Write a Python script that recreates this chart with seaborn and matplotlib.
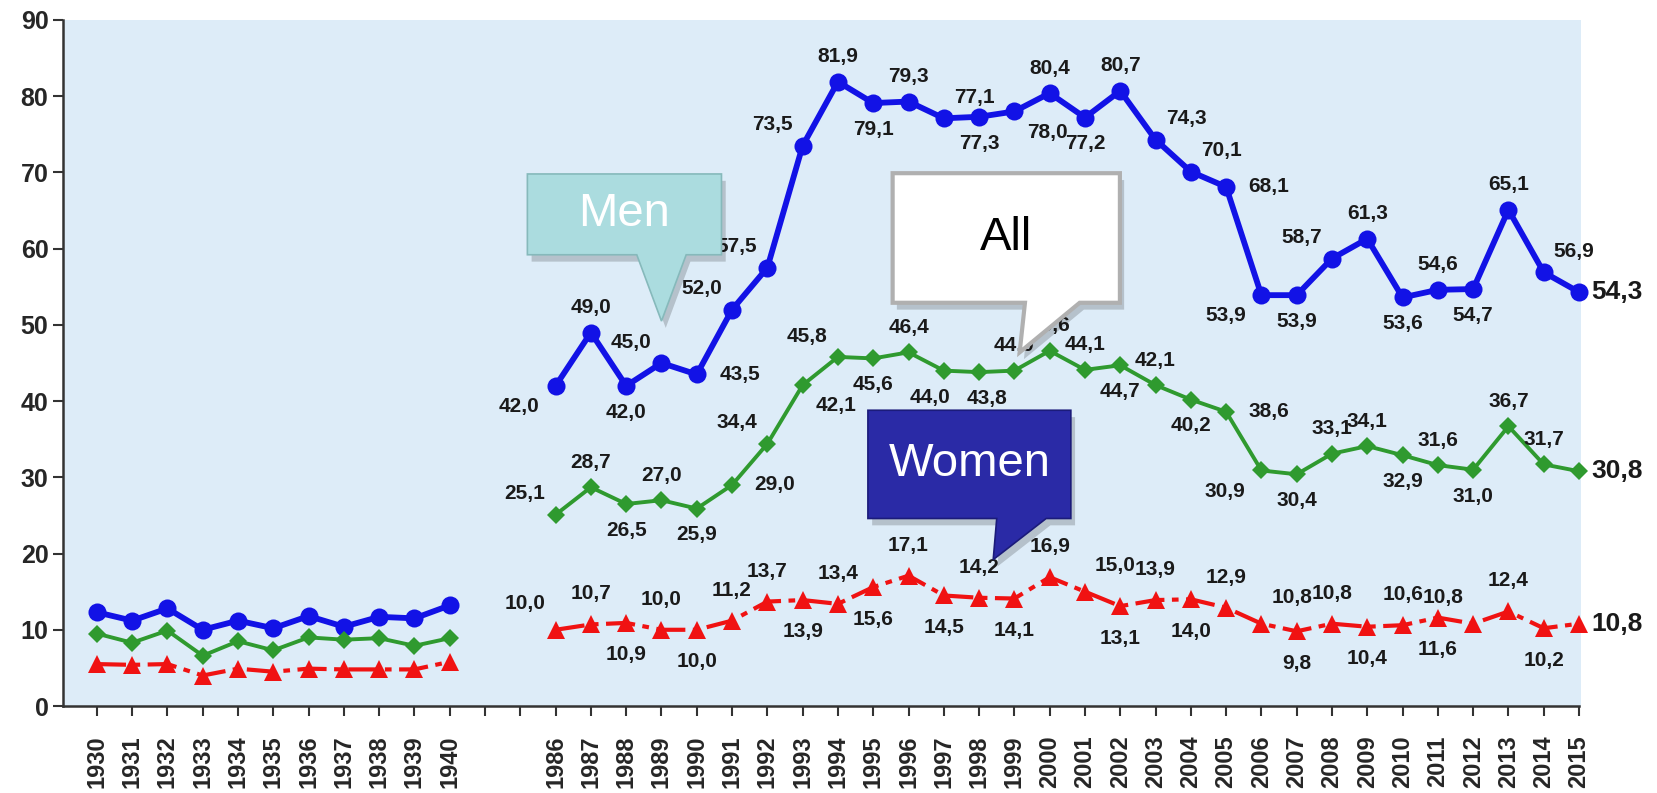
import matplotlib
matplotlib.use("Agg")
import matplotlib.pyplot as plt
from matplotlib.patches import Polygon
import pandas as pd
import seaborn as sns

# --- data -------------------------------------------------------------
years_early = list(range(1930, 1941))
years_late = list(range(1986, 2016))

men_early = [12.3, 11.2, 12.8, 10.0, 11.2, 10.2, 11.8, 10.4, 11.7, 11.5, 13.2]
all_early = [9.5, 8.3, 9.9, 6.6, 8.5, 7.3, 9.0, 8.7, 8.9, 7.9, 8.9]
women_early = [5.5, 5.4, 5.5, 4.0, 4.9, 4.5, 4.9, 4.8, 4.8, 4.8, 5.8]

men_late = [42.0, 49.0, 42.0, 45.0, 43.5, 52.0, 57.5, 73.5, 81.9, 79.1,
            79.3, 77.1, 77.3, 78.0, 80.4, 77.2, 80.7, 74.3, 70.1, 68.1,
            53.9, 53.9, 58.7, 61.3, 53.6, 54.6, 54.7, 65.1, 56.9, 54.3]
all_late = [25.1, 28.7, 26.5, 27.0, 25.9, 29.0, 34.4, 42.1, 45.8, 45.6,
            46.4, 44.0, 43.8, 44.0, 46.6, 44.1, 44.7, 42.1, 40.2, 38.6,
            30.9, 30.4, 33.1, 34.1, 32.9, 31.6, 31.0, 36.7, 31.7, 30.8]
women_late = [10.0, 10.7, 10.9, 10.0, 10.0, 11.2, 13.7, 13.9, 13.4, 15.6,
              17.1, 14.5, 14.2, 14.1, 16.9, 15.0, 13.1, 13.9, 14.0, 12.9,
              10.8, 9.8, 10.8, 10.4, 10.6, 11.6, 10.8, 12.4, 10.2, 10.8]

gap_slots = 2
tick_labels = [str(y) for y in years_early] + [""] * gap_slots + [str(y) for y in years_late]

# label placement for the 1986-2015 points
men_pos = ['bl', 'a', 'b', 'al', 'r', 'al', 'al', 'al', 'a', 'b', 'a', 'ar', 'b', 'br', 'a',
           'b', 'a', 'ar', 'ar', 'r', 'bl', 'b', 'al', 'a', 'b', 'a', 'b', 'a', 'ar', 'end']
all_pos = ['al', 'a', 'b', 'a', 'b', 'r', 'al', 'br', 'al', 'b', 'a', 'bl2', 'br2', 'a', 'a',
           'a', 'b', 'a', 'b', 'r', 'bl', 'b', 'a', 'a', 'b', 'a', 'b', 'a', 'a', 'end']
women_pos = ['al', 'a', 'b', 'a', 'b', 'a', 'a', 'b', 'a', 'b', 'a', 'b', 'a', 'b', 'a',
             'ar', 'b', 'a', 'b', 'a', 'ar', 'b', 'a', 'b', 'a', 'b', 'al', 'a', 'b', 'end']

pos_early = list(range(len(years_early)))
pos_late = [len(years_early) + gap_slots + i for i in range(len(years_late))]

rows = []
for name, early, late in [("Men", men_early, men_late),
                          ("All", all_early, all_late),
                          ("Women", women_early, women_late)]:
    for p, v in zip(pos_early, early):
        rows.append((name, "early", p, v))
    for p, v in zip(pos_late, late):
        rows.append((name, "late", p, v))
df = pd.DataFrame(rows, columns=["series", "period", "pos", "value"])

# --- style ------------------------------------------------------------
sns.set_style("ticks")
plt.rcParams['font.family'] = ['Liberation Sans', 'DejaVu Sans']

styles = {
    "Men": dict(color="#1212e6", marker="o", markersize=13, lw=4.2, linestyle="-"),
    "All": dict(color="#2f9a2f", marker="D", markersize=9, lw=2.8, linestyle="-"),
    "Women": dict(color="#f01212", marker="^", markersize=13, lw=3.0,
                  linestyle=(0, (7, 1.8, 1.6, 1.8))),
}

fig = plt.figure(figsize=(16.57, 7.93), dpi=100)
ax = fig.add_axes([0.038, 0.1097, 0.916, 0.8651])
ax.set_facecolor("#ddecf8")

for name in ["Men", "All", "Women"]:
    st = styles[name]
    sns.lineplot(data=df[df.series == name], x="pos", y="value", units="period",
                 estimator=None, ax=ax, color=st["color"], marker=st["marker"],
                 markersize=st["markersize"], markeredgecolor=st["color"],
                 markeredgewidth=0, lw=st["lw"], linestyle=st["linestyle"], zorder=3)
for ln in ax.lines:
    ln.set_clip_on(False)

offsets = {'a': (0, 18), 'b': (0, -19), 'l': (-32, 0), 'r': (31, 0),
           'al': (-22, 15), 'ar': (22, 15), 'bl': (-26, -15), 'br': (24, -15),
           'bl2': (-10, -19), 'br2': (6, -19)}
women_extra = 4  # women labels sit a bit farther from the triangles

for late, places, extra in [(men_late, men_pos, 0), (all_late, all_pos, 0),
                            (women_late, women_pos, women_extra)]:
    for p, v, code in zip(pos_late, late, places):
        txt = f"{v:.1f}".replace(".", ",")
        if code == "end":
            ax.annotate(txt, (p, v), xytext=(9, 0), textcoords="offset points",
                        ha="left", va="center", fontsize=19, fontweight="bold",
                        color="#1a1a1a", zorder=4, annotation_clip=False)
        else:
            dx, dy = offsets[code]
            dy = dy + extra if dy > 0 else dy - extra if dy < 0 else dy
            ax.annotate(txt, (p, v), xytext=(dx, dy), textcoords="offset points",
                        ha="center", va="center", fontsize=15, fontweight="bold",
                        color="#1a1a1a", zorder=4)


def callout(x0, x1, y0, y1, pl, pr, tip, face, edge, lw, text, tcolor):
    pts = [(x0, y1), (x1, y1), (x1, y0), (pr, y0), tip, (pl, y0), (x0, y0)]
    shadow = [(x + 0.12, y - 0.9) for x, y in pts]
    ax.add_patch(Polygon(shadow, closed=True, facecolor="#000000", alpha=0.18,
                         edgecolor="none", zorder=5))
    ax.add_patch(Polygon(pts, closed=True, facecolor=face, edgecolor=edge,
                         lw=lw, zorder=6, joinstyle="miter"))
    ax.text((x0 + x1) / 2, (y0 + y1) / 2, text, ha="center", va="center",
            fontsize=34, color=tcolor, zorder=7)


callout(12.2, 17.7, 59.2, 69.8, 15.3, 16.7, (16.0, 50.5), "#abdcdf", "#86b9bb", 1.2,
        "Men", "white")
callout(22.55, 28.99, 52.9, 69.9, 26.3, 27.85, (26.15, 46.4), "white", "#b0b0b0", 3.0,
        "All", "black")
callout(21.85, 27.6, 24.6, 38.8, 25.5, 26.9, (25.4, 19.2), "#2a2aa6", "#1b1b7a", 1.2,
        "Women", "white")

# --- axes -------------------------------------------------------------
ax.set_xlim(-0.96, 42.05)
ax.set_ylim(0, 90)
ax.set_yticks(range(0, 91, 10))
ax.set_xticks(range(len(tick_labels)))
ax.set_xticklabels(tick_labels, rotation=90, fontsize=17, fontweight="bold")
ax.tick_params(axis="y", labelsize=18, length=7, width=1.5, color="#333333")
ax.tick_params(axis="x", length=7, width=1.5, color="#333333", pad=14)
for lab in ax.get_yticklabels():
    lab.set_fontweight("bold")
ax.set_xlabel("")
ax.set_ylabel("")
sns.despine(ax=ax)
for s in ["left", "bottom"]:
    ax.spines[s].set_linewidth(1.8)
    ax.spines[s].set_color("#333333")
ax.spines["bottom"].set_bounds(-0.96, 42)

fig.savefig("out.png", dpi=100)
